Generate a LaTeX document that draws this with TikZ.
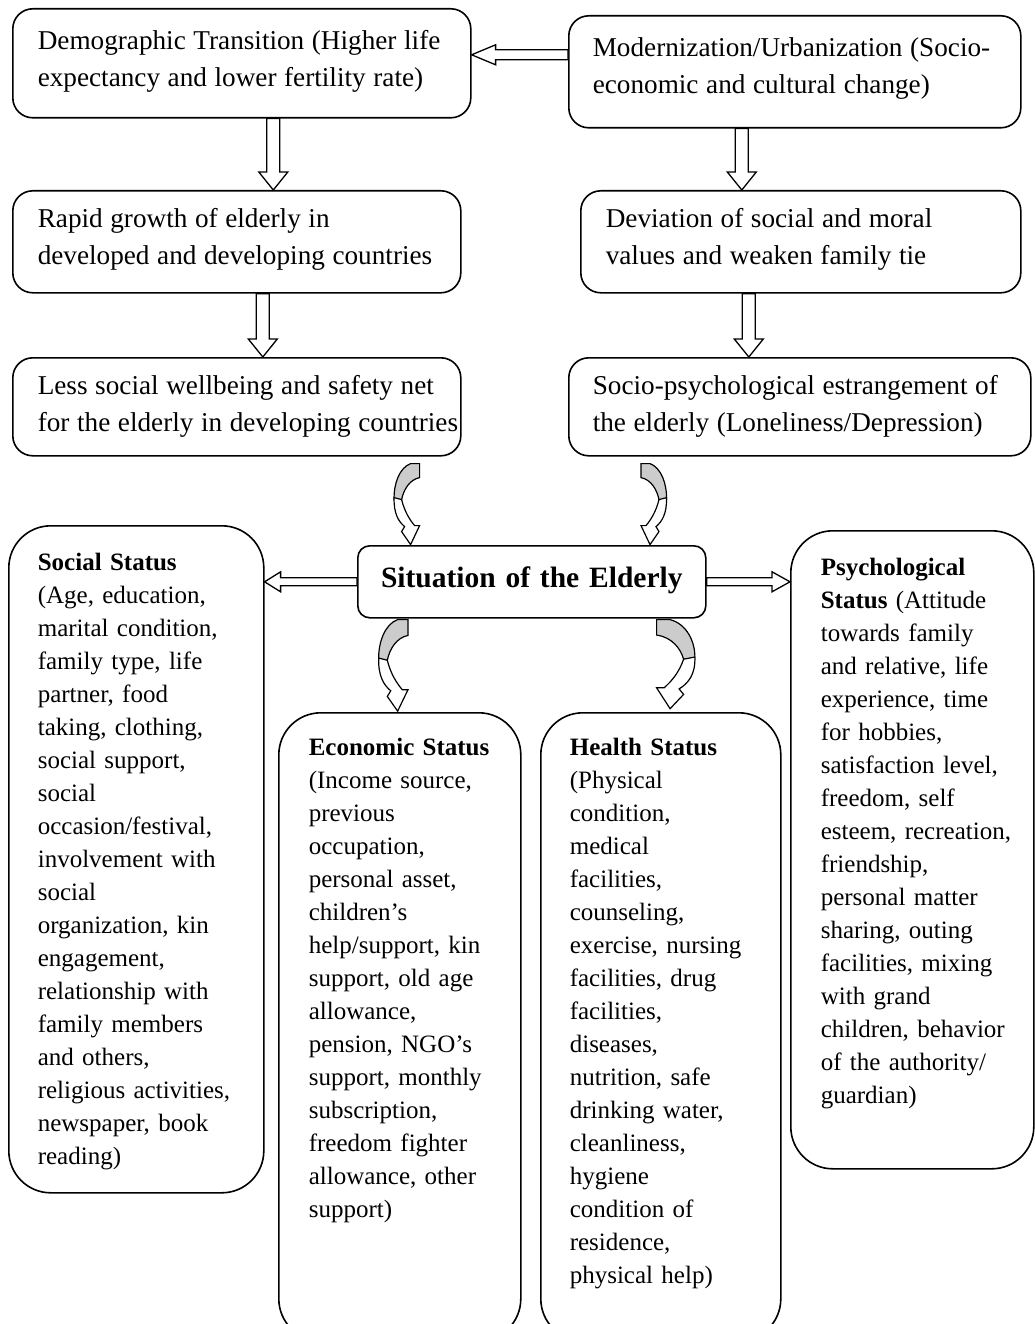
\documentclass[tikz,border=0pt]{standalone}
\usepackage{fontspec}
\setmainfont{Liberation Serif}
\usetikzlibrary{calc}

\begin{document}
\begin{tikzpicture}[x=1pt,y=-1pt,
  topbox/.style={draw, line width=1.6pt, rounded corners=20pt, inner sep=0pt, align=left,
    anchor=north west, font=\fontsize{27.2}{37}\selectfont,
    execute at begin node={\leftskip=#1pt\rightskip=-30pt plus 1fil\hyphenpenalty=10000\spaceskip=0.28em}},
  statbox/.style={draw, line width=1.6pt, rounded corners=42pt, inner sep=0pt, align=left,
    anchor=north west, font=\fontsize{25}{33}\selectfont,
    execute at begin node={\leftskip=#1pt\rightskip=-20pt plus 1fil\hyphenpenalty=10000}},
  hollow/.style n args={3}{draw, fill=white, line width=1.3pt, to path={
    let \p1=(\tikztostart), \p2=(\tikztotarget), \p3=($(\p2)!#3pt!(\p1)$) in
    ($(\p1)!#1pt!90:(\p2)$) -- ($(\p3)!#1pt!90:(\p2)$) -- ($(\p3)!#2pt!90:(\p2)$) -- (\p2)
    -- ($(\p3)!#2pt!-90:(\p2)$) -- ($(\p3)!#1pt!-90:(\p2)$) -- ($(\p1)!#1pt!-90:(\p2)$) -- cycle}},
  twist/.pic={
    \draw[line width=1.2pt, fill=black!20] (-9,0) -- (0,0) -- (0,14) .. controls (-10,16) and (-16,26) .. (-18,36)
      -- (-25.5,36) .. controls (-26,20) and (-20,4) .. (-9,0) -- cycle;
    \draw[line width=1.2pt, fill=white] (-25.5,34) .. controls (-26,50) and (-21,58) .. (-15,63) -- (-18,68) -- (-9,81)
      -- (0,62) -- (-5,62) .. controls (-10,56) and (-15,48) .. (-18,36) -- cycle;
  }]
  \path[use as bounding box, fill=white] (0,0) rectangle (1034,1324);

  \node[topbox=25, text width=458, text height=41, text depth=68] (dem) at (12,8)
    {Demographic Transition (Higher life\\expectancy and lower fertility rate)};
  \node[topbox=24, text width=452, text height=41, text depth=71] (mod) at (568,15)
    {Modernization/Urbanization (Socio-\\economic and cultural change)};
  \node[topbox=25, text width=448, text height=37, text depth=65] (grw) at (12,190)
    {Rapid growth of elderly in\\developed and developing countries};
  \node[topbox=25, text width=440, text height=37, text depth=65] (dev) at (580,190)
    {Deviation of social and moral\\values and weaken family tie};
  \node[topbox=25, text width=448, text height=37, text depth=61] (less) at (12,357)
    {Less social wellbeing and safety net\\for the elderly in developing countries};
  \node[topbox=24, text width=462, text height=37, text depth=61] (estr) at (568,357)
    {Socio-psychological estrangement of\\the elderly (Loneliness/Depression)};
  \node[draw, line width=1.6pt, rounded corners=12pt, inner sep=0pt, align=center, text width=348,
    text height=42, text depth=30, anchor=north west, font=\fontsize{29.5}{36}\selectfont\bfseries] (sit) at (357,545)
    {Situation of the Elderly};

  \node[statbox=29, text width=255, text height=45, text depth=622] (soc) at (8,525)
    {\textbf{Social Status}\\(Age, education,\\marital condition,\\family type, life\\partner, food\\taking, clothing,\\social support,\\social\\occasion/festival,\\involvement with\\social\\organization, kin\\engagement,\\relationship with\\family members\\and others,\\religious activities,\\newspaper, book\\reading)};
  \node[statbox=30, text width=242, text height=43, text depth=585] (eco) at (278,712)
    {\textbf{Economic Status}\\(Income source,\\previous\\occupation,\\personal asset,\\children’s\\help/support, kin\\support, old age\\allowance,\\pension, NGO’s\\support, monthly\\subscription,\\freedom fighter\\allowance, other\\support)};
  \node[statbox=29, text width=240, text height=43, text depth=585] (hea) at (540,712)
    {\textbf{Health Status}\\(Physical\\condition,\\medical\\facilities,\\counseling,\\exercise, nursing\\facilities, drug\\facilities,\\diseases,\\nutrition, safe\\drinking water,\\cleanliness,\\hygiene\\condition of\\residence,\\physical help)};
  \node[statbox=30, text width=243, text height=45, text depth=593] (psy) at (790,530)
    {\textbf{Psychological}\\\textbf{Status} (Attitude\\towards family\\and relative, life\\experience, time\\for hobbies,\\satisfaction level,\\freedom, self\\esteem, recreation,\\friendship,\\personal matter\\sharing, outing\\facilities, mixing\\with grand\\children, behavior\\of the authority/\\guardian)};

  \draw[hollow={5}{10}{24}] ([yshift=17pt]mod.west) to ([yshift=8.5pt]dem.east);
  \draw[hollow={6.5}{14.5}{18}] ([xshift=31.5pt]dem.south) to ([xshift=36.5pt]grw.north);
  \draw[hollow={6.5}{14.5}{18}] ([xshift=26pt]grw.south) to ([xshift=26pt]less.north);
  \draw[hollow={6.5}{14.5}{18}] ([xshift=-53pt]mod.south) to ([xshift=-59pt]dev.north);
  \draw[hollow={6.5}{14.5}{18}] ([xshift=-52pt]dev.south) to ([xshift=-51pt]estr.north);
  \draw[hollow={4}{10}{16}] (sit.west) to (sit.west -| soc.east);
  \draw[hollow={4}{10}{18}] (sit.east) to (sit.east -| psy.west);

  \pic at ($(less.south east)+(-42,7)$) {twist};
  \pic[xscale=-1] at ($(estr.south west)+(73,7)$) {twist};
  \pic[xscale=1.15, yscale=1.13] at ($(sit.south west)+(51,1)$) {twist};
  \pic[xscale=-1.5, yscale=1.1] at ($(sit.south east)+(-50,1)$) {twist};
\end{tikzpicture}
\end{document}
